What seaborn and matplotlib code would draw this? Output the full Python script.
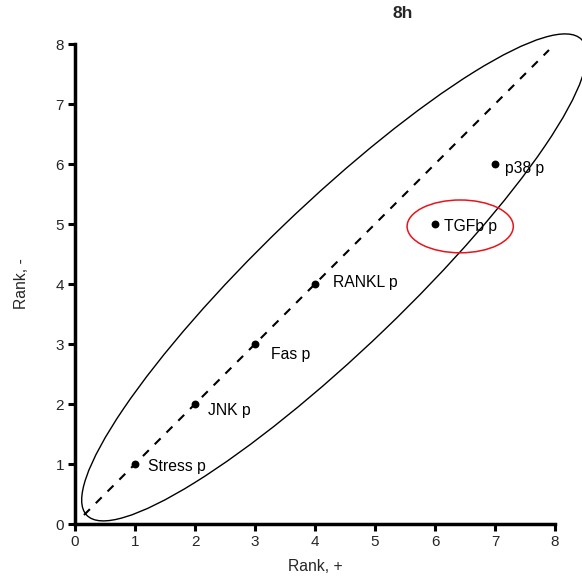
import matplotlib
matplotlib.use("Agg")
import matplotlib.pyplot as plt
import seaborn as sns
import pandas as pd
from matplotlib.patches import Ellipse

# data
labels = ["Stress p", "JNK p", "Fas p", "RANKL p", "TGFb p", "p38 p"]
rank_plus = [1, 2, 3, 4, 6, 7]
rank_minus = [1, 2, 3, 4, 5, 6]
diag = [0.15, 7.9]
x_ticks = [0, 1, 2, 3, 4, 5, 6, 7, 8]
y_ticks = [0, 1, 2, 3, 4, 5, 6, 7, 8]

# label offsets in pixels (dx right, dy down)
label_offsets = [(13, 3), (13, 7), (16, 11), (18, -2), (9, 2), (10, 5)]

sns.set_style("ticks")
plt.rcParams["font.family"] = ["Liberation Sans", "DejaVu Sans"]

fig = plt.figure(figsize=(5.82, 5.82), dpi=100)
ax = fig.add_axes([75/582, 58/582, 480/582, 480/582])

df = pd.DataFrame({"plus": rank_plus, "minus": rank_minus, "label": labels})
sns.lineplot(x=diag, y=diag, ax=ax, color="black", lw=1.5, linestyle=(0, (4, 4)))
sns.scatterplot(data=df, x="plus", y="minus", ax=ax, color="black", s=32,
                edgecolor="black", linewidth=0, zorder=5)

for (lab, xv, yv), (dx, dy) in zip(zip(labels, rank_plus, rank_minus), label_offsets):
    ax.annotate(lab, (xv, yv), xytext=(dx * 0.72, -dy * 0.72), textcoords="offset points",
                ha="left", va="center", fontsize=11.3, color="black")

big = Ellipse((4.32, 4.11), width=11.44, height=2.42, angle=43.86, fill=False,
              edgecolor="black", lw=1.0, clip_on=False)
ax.add_patch(big)
red = Ellipse((6.42, 4.96), width=1.77, height=0.88, angle=0, fill=False,
              edgecolor="#e8141c", lw=1.1, clip_on=False)
ax.add_patch(red)

ax.set_xlim(0, 8)
ax.set_ylim(0, 8)
ax.set_xticks(x_ticks)
ax.set_yticks(y_ticks)
ax.set_xlabel("Rank, +", fontsize=11.3, labelpad=7)
ax.set_ylabel("Rank, -", fontsize=11.3, labelpad=19)
ax.tick_params(axis="both", length=5, width=2.2, labelsize=11, pad=3, color="black")
for side in ["left", "bottom"]:
    ax.spines[side].set_linewidth(2.5)
    ax.spines[side].set_color("black")
sns.despine(ax=ax)

fig.text(403/582, 1 - 14/582, "8h", ha="center", va="center", fontsize=12.5, fontweight="bold")

fig.savefig("out.png", dpi=100)
